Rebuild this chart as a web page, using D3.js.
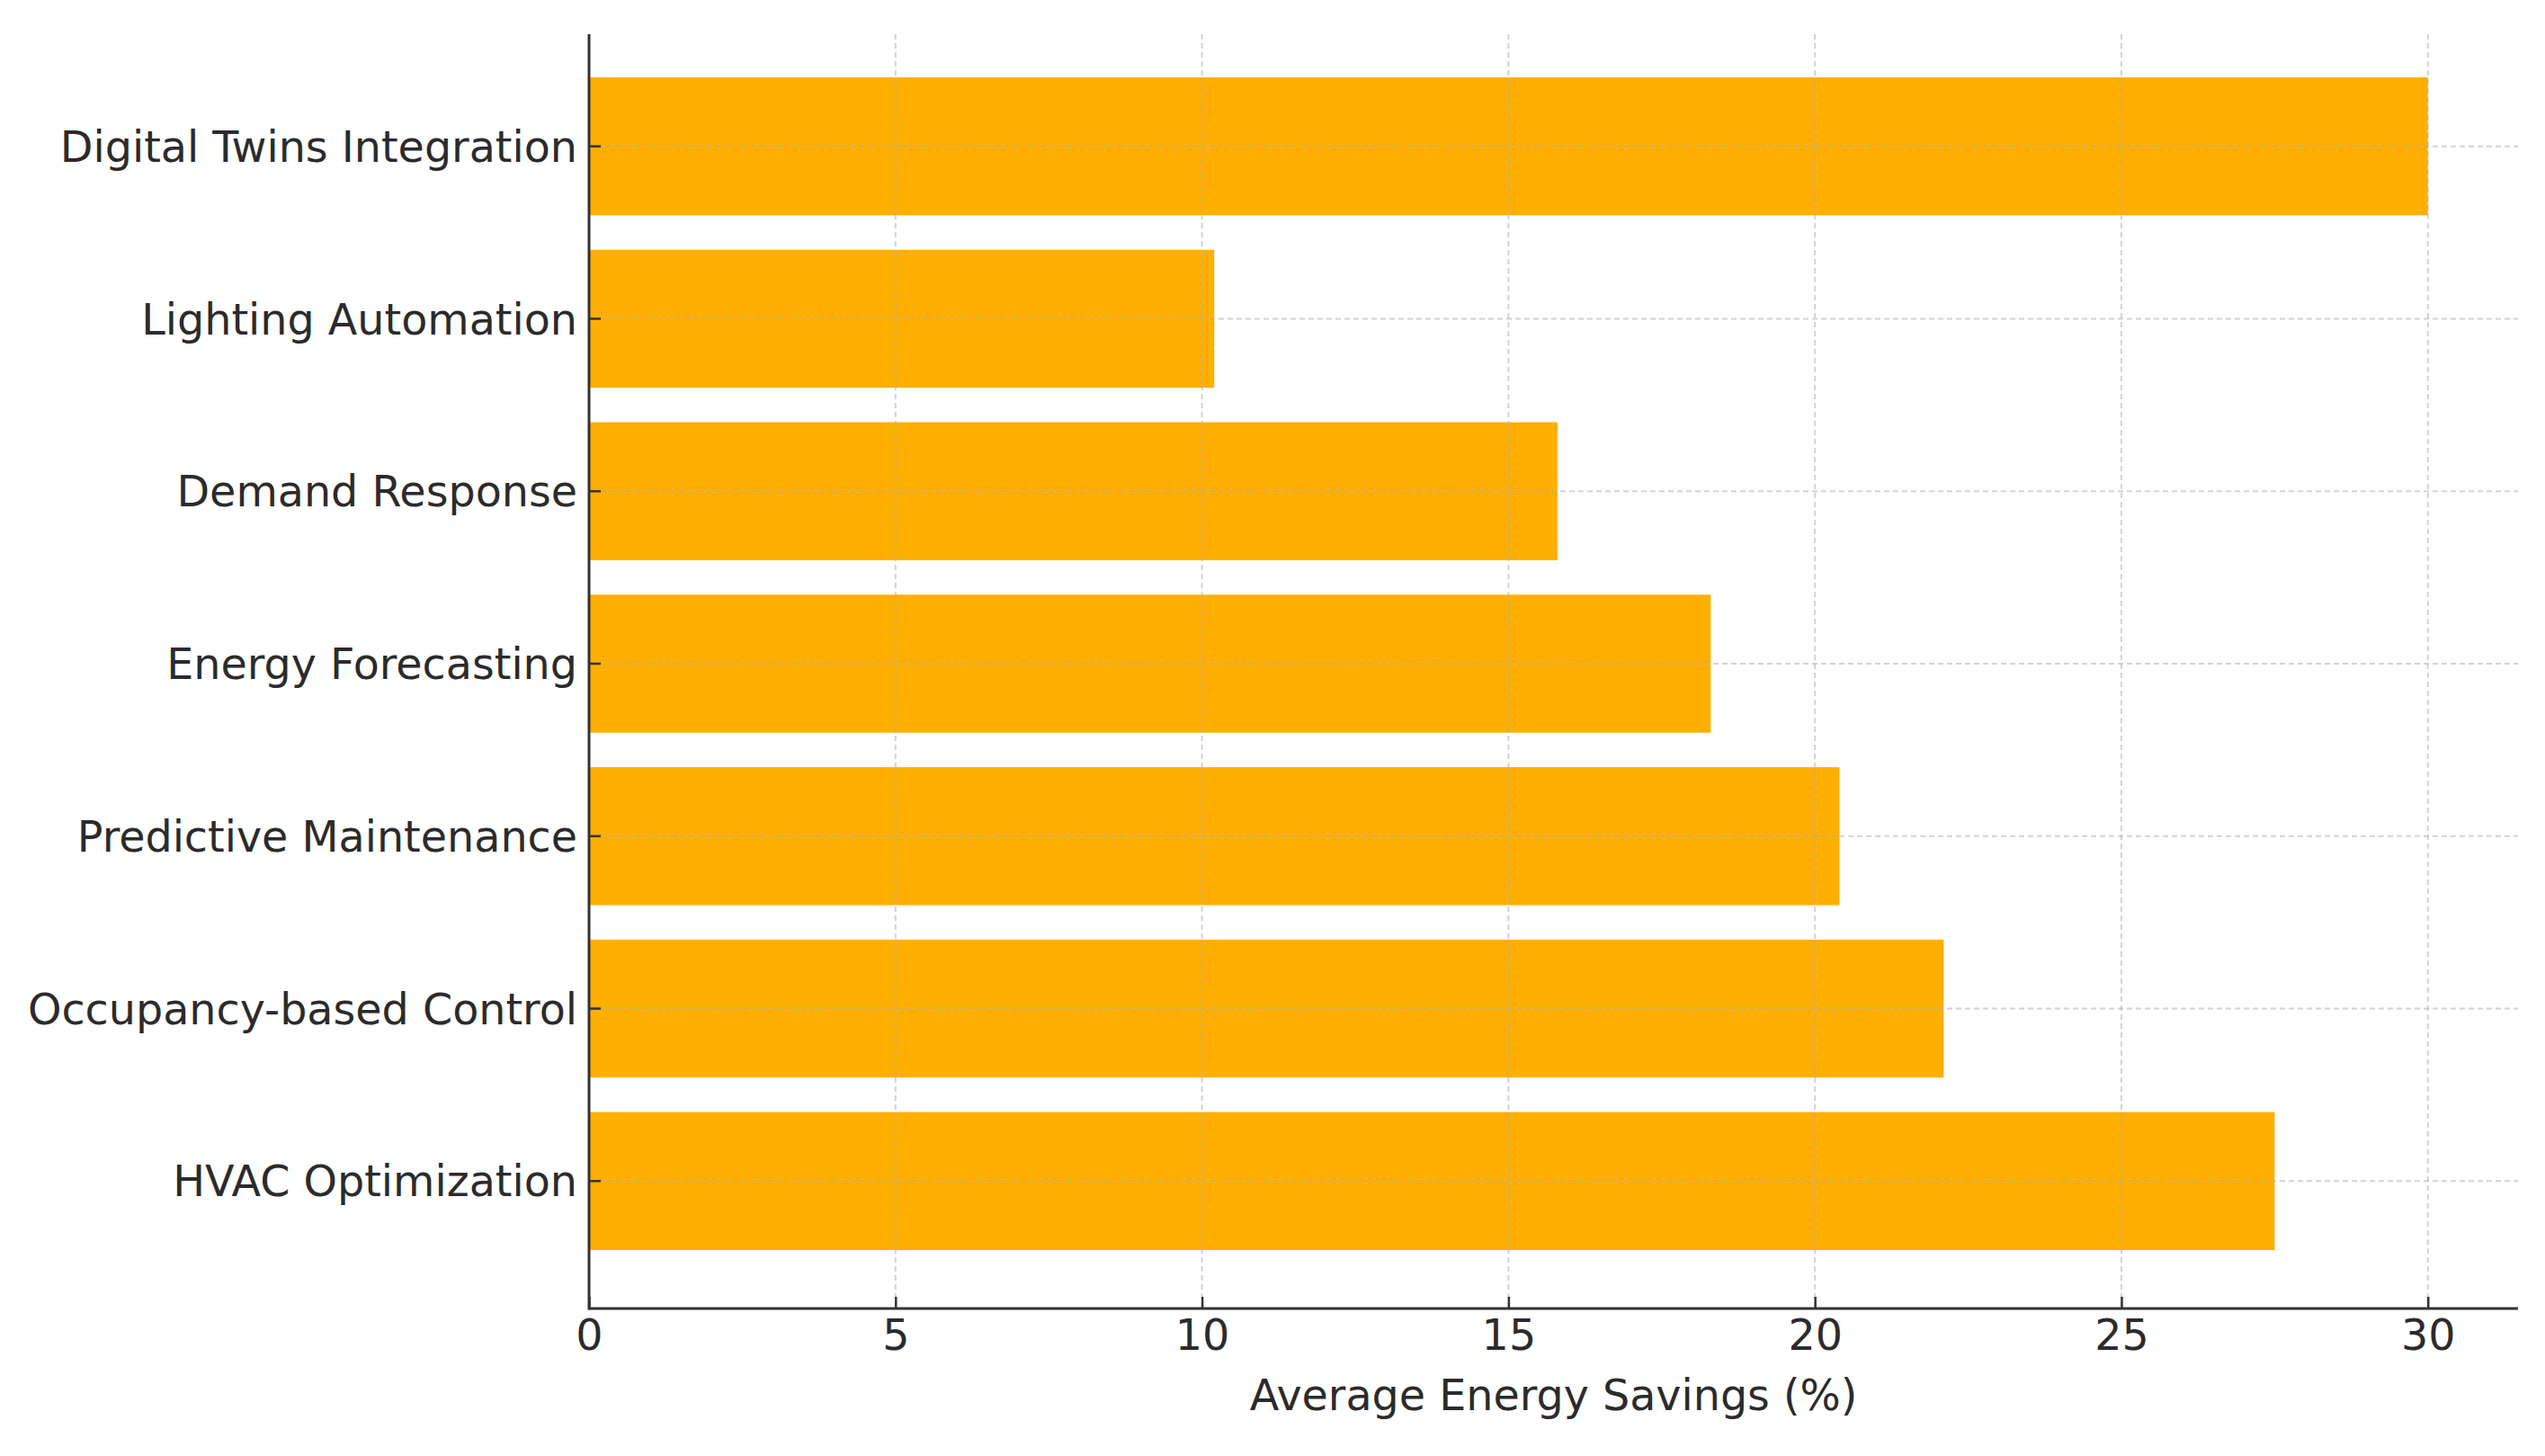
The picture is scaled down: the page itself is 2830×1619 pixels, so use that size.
<!DOCTYPE html>
<html lang="en">
<head>
    <meta charset="UTF-8">
    <script src="https://cdn.jsdelivr.net/npm/d3@7"></script>
    <title>Average Energy Savings</title>
    <style>
        body { margin: 0; background: white; }
        text { font-family: "DejaVu Sans", sans-serif; fill: #2b2b2b; }
        .grid line { stroke: #b0b0b0; stroke-width: 2; stroke-dasharray: 6 4; opacity: .55; }
    </style>
</head>
<body>
    <div id="chart"></div>
    <script>
        // data, bottom to top as in the picture
        const categories = [
            "HVAC Optimization",
            "Occupancy-based Control",
            "Predictive Maintenance",
            "Energy Forecasting",
            "Demand Response",
            "Lighting Automation",
            "Digital Twins Integration"
        ];
        const savings = [27.5, 22.1, 20.4, 18.3, 15.8, 10.2, 30];
        const xTicks = [0, 5, 10, 15, 20, 25, 30];
        const xLabel = "Average Energy Savings (%)";

        const width = 2830, height = 1619;
        const plot = { left: 655, right: 2800, top: 38, bottom: 1455 };
        const step = 191.8;
        const fontSize = "47.6px";

        const svg = d3.select("#chart").append("svg")
            .attr("width", width)
            .attr("height", height);

        const x = d3.scaleLinear()
            .domain([0, 31.5])
            .range([plot.left, 2802]);

        // top category first in the band domain
        const y = d3.scaleBand()
            .domain(categories.slice().reverse())
            .range([86 - 0.1 * step, 1390 + 0.1 * step])
            .paddingInner(0.2)
            .paddingOuter(0.1);

        const rows = categories.map((c, i) => ({ name: c, value: savings[i] }));

        svg.append("g")
            .selectAll("rect")
            .data(rows)
            .enter()
            .append("rect")
            .attr("x", x(0))
            .attr("y", d => y(d.name))
            .attr("width", d => x(d.value) - x(0))
            .attr("height", y.bandwidth())
            .attr("fill", "#FFAF00");

        // grid on top of the bars, faint
        const grid = svg.append("g").attr("class", "grid");
        grid.selectAll(".gx")
            .data(xTicks.slice(1))
            .enter()
            .append("line")
            .attr("x1", d => x(d)).attr("x2", d => x(d))
            .attr("y1", plot.top).attr("y2", plot.bottom);
        grid.selectAll(".gy")
            .data(categories)
            .enter()
            .append("line")
            .attr("x1", plot.left).attr("x2", plot.right)
            .attr("y1", d => y(d) + y.bandwidth() / 2)
            .attr("y2", d => y(d) + y.bandwidth() / 2);

        // x axis, ticks pointing inward
        const xAxis = svg.append("g")
            .attr("transform", `translate(0,${plot.bottom})`)
            .call(d3.axisBottom(x).tickValues(xTicks).tickSizeInner(-13).tickSizeOuter(0));
        xAxis.select(".domain").remove();
        xAxis.selectAll(".tick line").attr("stroke", "#333").attr("stroke-width", 2.5);
        xAxis.selectAll(".tick text")
            .attr("y", 46)
            .attr("dy", null)
            .style("font-size", fontSize)
            .attr("fill", "#2b2b2b");

        // y axis
        const yAxis = svg.append("g")
            .attr("transform", `translate(${plot.left},0)`)
            .call(d3.axisLeft(y).tickSizeInner(-13).tickSizeOuter(0));
        yAxis.select(".domain").remove();
        yAxis.selectAll(".tick line").attr("stroke", "#333").attr("stroke-width", 2.5);
        yAxis.selectAll(".tick text")
            .attr("x", -13)
            .attr("dy", "0.36em")
            .style("font-size", fontSize)
            .attr("fill", "#2b2b2b");

        // spines: left and bottom only
        svg.append("line")
            .attr("x1", plot.left).attr("x2", plot.left)
            .attr("y1", plot.top).attr("y2", plot.bottom + 1.5)
            .attr("stroke", "#333").attr("stroke-width", 3);
        svg.append("line")
            .attr("x1", plot.left).attr("x2", plot.right)
            .attr("y1", plot.bottom).attr("y2", plot.bottom)
            .attr("stroke", "#333").attr("stroke-width", 3);

        svg.append("text")
            .attr("x", (plot.left + plot.right) / 2)
            .attr("y", 1568)
            .attr("text-anchor", "middle")
            .style("font-size", fontSize)
            .text(xLabel);
    </script>
</body>
</html>
